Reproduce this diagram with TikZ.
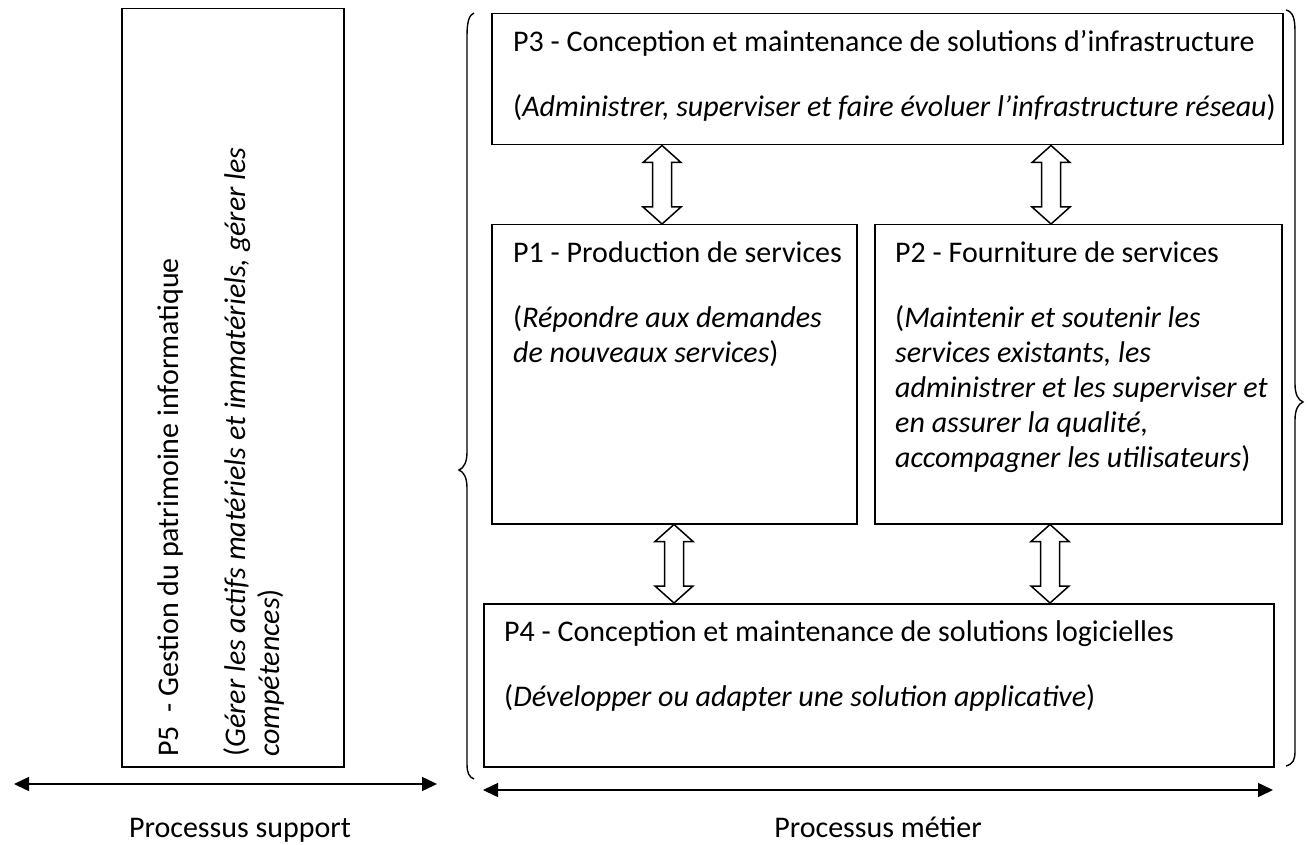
\documentclass[tikz,border=0pt]{standalone}
\usepackage{fontspec}
\setmainfont{Carlito}
\usetikzlibrary{arrows.meta,calc}
\tikzset{
  box/.style={draw, line width=1.5pt, inner sep=0pt, anchor=north west, fill=white},
  txt/.style={inner sep=0pt, anchor=base west, font=\fontsize{30}{35}\selectfont},
  lbl/.style={inner sep=0pt, anchor=base, font=\fontsize{30}{35}\selectfont},
  blk/.style={draw, line width=1.5pt, fill=white, line join=miter},
  dbl/.style={line width=1.5pt, {Triangle[length=15pt,width=14pt]}-{Triangle[length=15pt,width=14pt]}},
  brc/.style={line width=1.4pt}
}
\newcommand\blockarrow[3]{% x, top node anchor, bottom node anchor
  \draw[blk] let \p1=(#2), \p2=(#3) in
    (#1pt,\y1) -- (#1pt+19pt,\y1-17pt) -- (#1pt+9.5pt,\y1-17pt) -- (#1pt+9.5pt,\y2+17pt)
    -- (#1pt+19pt,\y2+17pt) -- (#1pt,\y2) -- (#1pt-19pt,\y2+17pt) -- (#1pt-9.5pt,\y2+17pt)
    -- (#1pt-9.5pt,\y1-17pt) -- (#1pt-19pt,\y1-17pt) -- cycle;}
\begin{document}
\begin{tikzpicture}[x=1pt,y=-1pt]
\useasboundingbox (0,0) rectangle (1309,845);
% boxes
\node[box, minimum width=222pt, minimum height=758pt] (p5) at (121,8) {};
\node[box, minimum width=791pt, minimum height=131pt] (p3) at (491,13) {};
\node[box, minimum width=365pt, minimum height=299pt] (p1) at (491,224) {};
\node[box, minimum width=407pt, minimum height=299pt] (p2) at (874,224) {};
\node[box, minimum width=790pt, minimum height=163pt] (p4) at (483,603) {};
% texts P3
\node[txt] (t3a) at (513,52) {P3 - Conception et maintenance de solutions d’infrastructure};
\node[txt] (t3b) at (513,117) {(\textit{Administrer, superviser et faire évoluer l’infrastructure réseau})};
% P1
\node[txt] (t1a) at (513,262) {P1 - Production de services};
\node[txt] (t1b) at (513,327) {(\textit{Répondre aux demandes}};
\node[txt] (t1c) at (513,362) {\textit{de nouveaux services})};
% P2
\node[txt] (t2a) at (895,262) {P2 - Fourniture de services};
\node[txt] (t2b) at (895,327) {(\textit{Maintenir et soutenir les}};
\node[txt] (t2c) at (895,362) {\textit{services existants, les}};
\node[txt] (t2d) at (895,397) {\textit{administrer et les superviser et}};
\node[txt] (t2e) at (895,432) {\textit{en assurer la qualité,}};
\node[txt] (t2f) at (895,467) {\textit{accompagner les utilisateurs})};
% P4
\node[txt] (t4a) at (504,641) {P4 - Conception et maintenance de solutions logicielles};
\node[txt] (t4b) at (504,706) {(\textit{Développer ou adapter une solution applicative})};
% P5 rotated
\node[txt, rotate=90] (t5a) at (178,757) {P5 \ - Gestion du patrimoine informatique};
\node[txt, rotate=90] (t5b) at (245,757) {(\textit{Gérer les actifs matériels et immatériels, gérer les}};
\node[txt, rotate=90] (t5c) at (279,757) {\textit{compétences})};
% block arrows
\blockarrow{662}{p3.south}{p1.north}
\blockarrow{1051}{p3.south}{p2.north}
\blockarrow{674}{p1.south}{p4.north}
\blockarrow{1050}{p2.south}{p4.north}
% braces
\draw[brc] (474,13) .. controls (469,15) and (467,22) .. (467,36) -- (467,452)
  .. controls (467,462) and (464,468) .. (459,470)
  .. controls (464,472) and (467,478) .. (467,488) -- (467,764)
  .. controls (467,773) and (469,777) .. (474,779);
\draw[brc] (1286,10) .. controls (1293,12) and (1295,18) .. (1295,32) -- (1295,384)
  .. controls (1295,394) and (1298,400) .. (1303,402)
  .. controls (1298,404) and (1295,410) .. (1295,420) -- (1295,751)
  .. controls (1295,760) and (1293,764) .. (1286,766);
% bottom arrows
\coordinate (la1) at (14,784);
\coordinate (la2) at (437,784);
\coordinate (ra1) at (483,790);
\coordinate (ra2) at (1273,790);
\draw[dbl] (la1) -- (la2);
\draw[dbl] (ra1) -- (ra2);
\node[lbl] (ls) at (240,837) {Processus support};
\node[lbl] (lm) at (878,837) {Processus métier};
\end{tikzpicture}
\end{document}
